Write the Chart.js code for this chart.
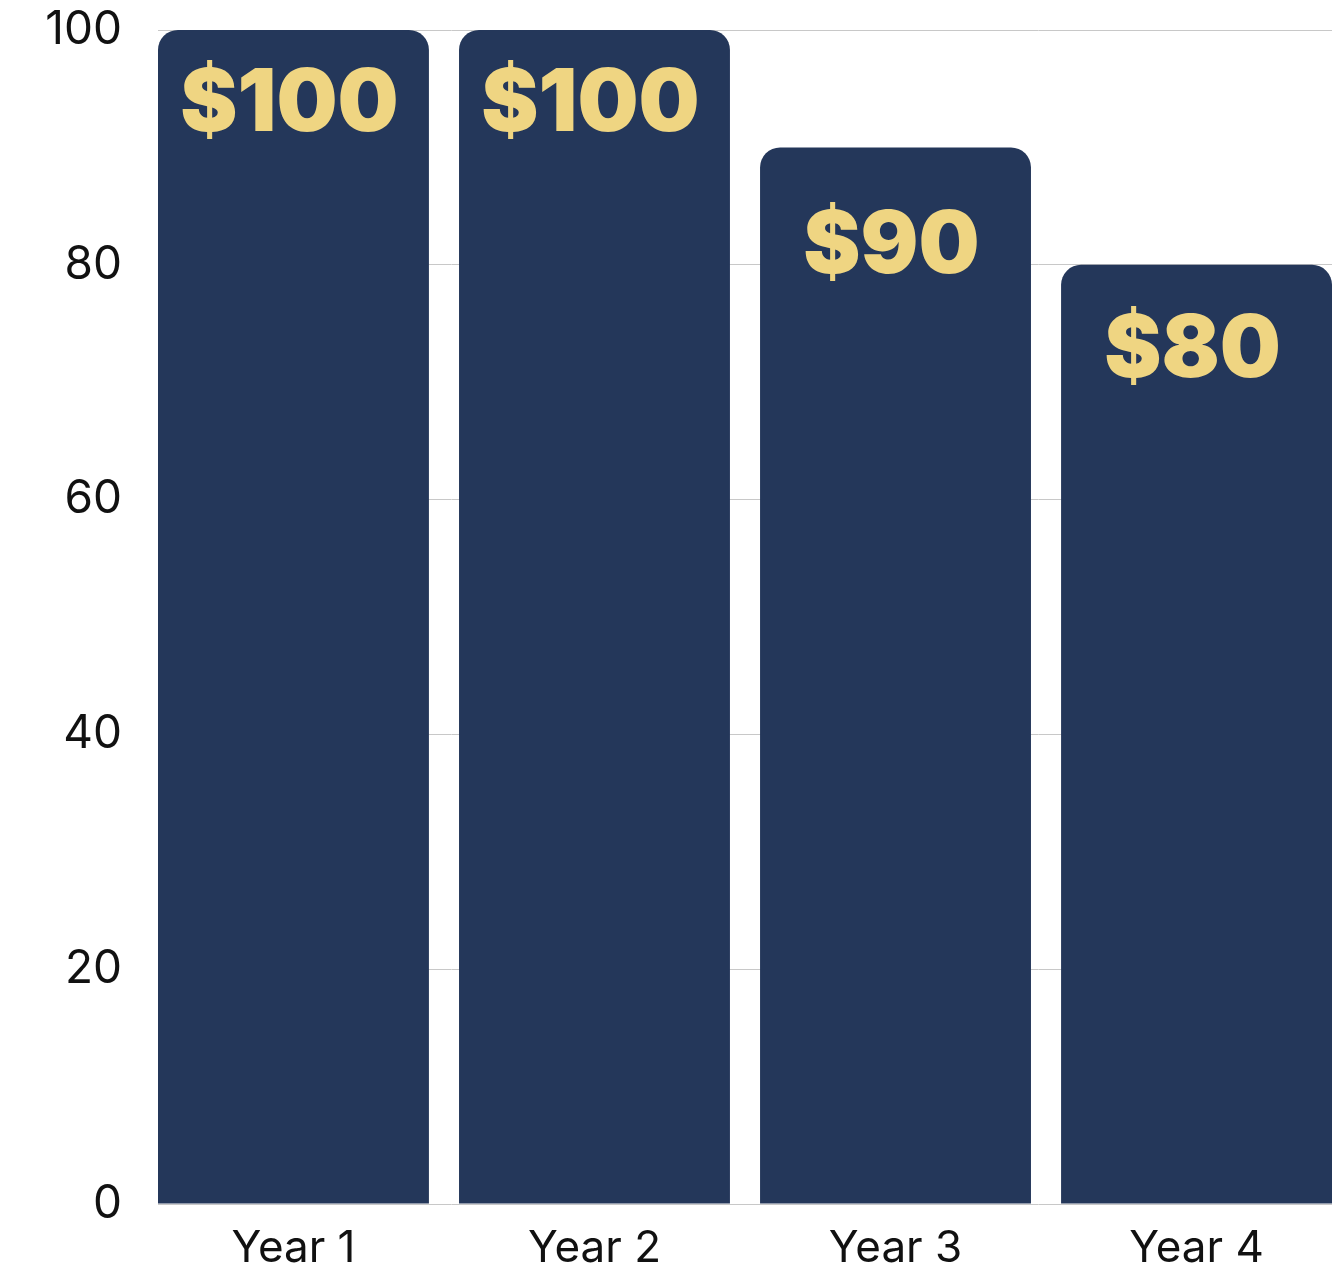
<!DOCTYPE html>
<html>
<head>
<meta charset="utf-8">
<script src="https://cdn.jsdelivr.net/npm/chart.js@4/dist/chart.umd.min.js"></script>
<style>
  html, body { margin: 0; padding: 0; background: #fff; }
  #wrap { width: 1341px; height: 1267px; }
</style>
</head>
<body>
<div id="wrap"><canvas id="myChart"></canvas></div>
<script>
var categories = ['Year 1', 'Year 2', 'Year 3', 'Year 4'];
var values = [100, 100, 90, 80];
var valueLabels = ['$100', '$100', '$90', '$80'];
var yTicks = [0, 20, 40, 60, 80, 100];

// distance from bar top to label centre, px
var labelDrop = [75, 75, 100, 86];

var barLabels = {
    id: 'barLabels',
    afterDatasetsDraw: function(chart) {
        var ctx = chart.ctx;
        var meta = chart.getDatasetMeta(0);
        ctx.save();
        ctx.fillStyle = '#efd582';
        ctx.font = '900 86px Inter, "DejaVu Sans", sans-serif';
        ctx.textAlign = 'center';
        ctx.textBaseline = 'middle';
        meta.data.forEach(function(bar, i) {
            ctx.fillText(valueLabels[i], bar.x - 4, bar.y + labelDrop[i]);
        });
        ctx.restore();
    }
};

var ctx = document.getElementById('myChart').getContext('2d');
var myChart = new Chart(ctx, {
    type: 'bar',
    data: {
        datasets: [{
            data: values.map(function(v, i) { return {x: i + 1, y: v}; }),
            backgroundColor: '#24375a',
            borderRadius: {topLeft: 20, topRight: 20, bottomLeft: 0, bottomRight: 0},
            borderSkipped: 'start',
            categoryPercentage: 1,
            barPercentage: 0.9
        }]
    },
    options: {
        responsive: true,
        maintainAspectRatio: false,
        animation: false,
        layout: {padding: {top: 30, right: 9, bottom: 0, left: 0}},
        plugins: {
            legend: {display: false},
            tooltip: {enabled: false}
        },
        scales: {
            x: {
                type: 'linear',
                min: 0.55,
                max: 4.45,
                bounds: 'data',
                offset: false,
                grid: {display: false, offset: false},
                border: {display: false},
                afterBuildTicks: function(scale) {
                    scale.ticks = categories.map(function(c, i) { return {value: i + 1}; });
                },
                afterFit: function(scale) { scale.height = 63; },
                ticks: {
                    includeBounds: false,
                    maxRotation: 0,
                    autoSkip: false,
                    color: '#111',
                    padding: 10,
                    font: {family: 'Inter', size: 44},
                    callback: function(v) { return categories[v - 1]; }
                }
            },
            y: {
                min: 0,
                max: 100,
                afterBuildTicks: function(scale) {
                    scale.ticks = yTicks.map(function(t) { return {value: t}; });
                },
                afterFit: function(scale) {
                    scale.width = 158;
                    scale.paddingTop = 0;
                    scale.paddingBottom = 0;
                },
                grid: {color: '#c8c8c8', lineWidth: 1, drawTicks: false},
                border: {display: false},
                ticks: {
                    color: '#111',
                    padding: 36,
                    font: {family: 'Inter', size: 46, lineHeight: 0.5}
                }
            }
        }
    },
    plugins: [barLabels]
});
</script>
</body>
</html>
